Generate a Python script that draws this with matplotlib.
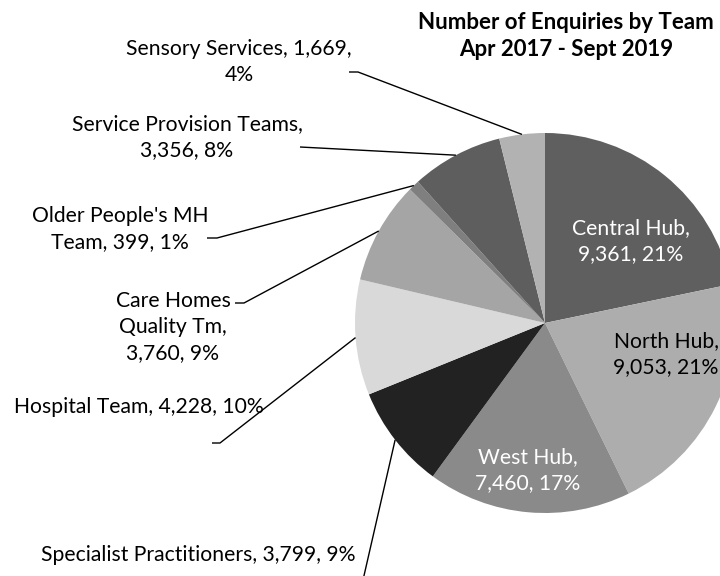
import matplotlib
matplotlib.use("Agg")
import matplotlib.pyplot as plt
import numpy as np

plt.rcParams['font.family'] = ['Lato', 'DejaVu Sans']

categories = ["Central Hub", "North Hub", "West Hub", "Specialist Practitioners",
              "Hospital Team", "Care Homes Quality Tm", "Older People's MH Team",
              "Service Provision Teams", "Sensory Services"]
values = [9361, 9053, 7460, 3799, 4228, 3760, 399, 3356, 1669]
label_texts = ["Central Hub,\n9,361, 21%", "North Hub,\n9,053, 21%", "West Hub,\n7,460, 17%",
               "Specialist Practitioners, 3,799, 9%", "Hospital Team, 4,228, 10%",
               "Care Homes\nQuality Tm,\n3,760, 9%", "Older People's MH\nTeam, 399, 1%",
               "Service Provision Teams,\n3,356, 8%", "Sensory Services, 1,669,\n4%"]
colors = ["#5f5f5f", "#adadad", "#8a8a8a", "#222222", "#d9d9d9",
          "#a5a5a5", "#7f7f7f", "#5e5e5e", "#b2b2b2"]
title = "Number of Enquiries by Team\nApr 2017 - Sept 2019"

W, H = 720, 576
fig = plt.figure(figsize=(7.2, 5.76), dpi=100)
ax = fig.add_axes([0, 0, 1, 1])

def Y(py):
    return H - py

cx, cy, R = 545, 323, 190
wedges, _ = ax.pie(values, colors=colors, startangle=90, counterclock=False,
                   center=(cx, Y(cy)), radius=R, frame=True,
                   wedgeprops=dict(linewidth=0))
ax.set_xlim(0, W)
ax.set_ylim(0, H)
ax.set_aspect('equal')
ax.axis('off')

fs = 15.2
# inside labels: (text center px, color)
inside = {0: ((631, 241), 'white'), 1: ((666, 354), 'black'), 2: ((528, 470), 'white')}
for i, ((tx, ty), c) in inside.items():
    ax.text(tx, Y(ty), label_texts[i], ha='center', va='center', color=c,
            fontsize=fs, linespacing=1.38, clip_on=False)

# outside labels: text center, leader anchor points
outside = {
    8: ((239, 62), [(349, 72), (358, 72)]),
    7: ((187, 137), [(300, 147)]),
    6: ((120, 229), [(207, 238), (217, 238)]),
    5: ((173, 327), [(235, 303), (244, 303)]),
    4: ((139, 407), [(212, 443), (220, 443)]),
    3: ((198, 555), [(363, 580)]),
}
for i, ((tx, ty), pts) in outside.items():
    ax.text(tx, Y(ty), label_texts[i], ha='center', va='center', color='black',
            fontsize=fs, linespacing=1.38, clip_on=False)
    w = wedges[i]
    mid = np.deg2rad((w.theta1 + w.theta2) / 2)
    ex, ey = cx + R * np.cos(mid), Y(cy) + R * np.sin(mid)
    xs = [p[0] for p in pts] + [ex]
    ys = [Y(p[1]) for p in pts] + [ey]
    ax.plot(xs, ys, color='black', linewidth=1.0, solid_capstyle='butt')

ax.text(566, Y(36), title, ha='center', va='center', fontsize=16,
        fontweight='bold', linespacing=1.3, clip_on=False)

fig.savefig("out.png", dpi=100)
